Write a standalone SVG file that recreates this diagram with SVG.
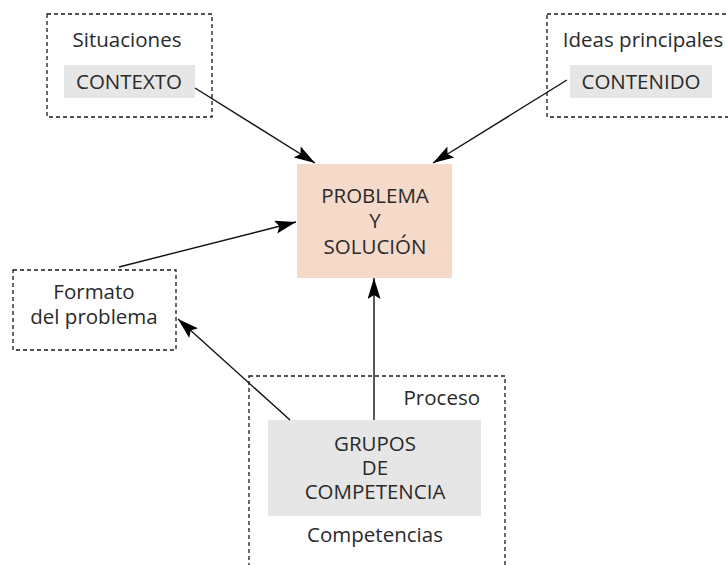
<svg xmlns="http://www.w3.org/2000/svg" width="728" height="565" viewBox="0 0 728 565">
<style>
.dash{fill:none;stroke:#1a1a1a;stroke-width:1.3;stroke-dasharray:4 3}
.gray{fill:#e6e6e6}
.peach{fill:#f5d9c9}
text{font-family:"Open Sans","Noto Sans","DejaVu Sans",sans-serif;font-size:20.5px;fill:#2a2a2a;text-anchor:middle}
.conn{stroke:#111;stroke-width:1.4;fill:none;marker-end:url(#ah)}
</style>
<defs>
<marker id="ah" markerUnits="userSpaceOnUse" markerWidth="24" markerHeight="14" refX="21" refY="6.5" orient="auto">
<path d="M0,0 L21,6.5 L0,13 L4,6.5 z" fill="#000"/>
</marker>
</defs>
<rect width="728" height="565" fill="#fff"/>
<g id="situaciones">
<rect class="dash" x="47" y="14" width="165" height="103"/>
<text x="127" y="47">Situaciones</text>
<rect class="gray" x="64" y="65" width="131" height="33"/>
<text x="129" y="89">CONTEXTO</text>
</g>
<g id="ideas">
<rect class="dash" x="547" y="14" width="190" height="103"/>
<text x="643" y="47">Ideas principales</text>
<rect class="gray" x="570" y="65" width="142" height="33"/>
<text x="641" y="89">CONTENIDO</text>
</g>
<g id="problema">
<rect class="peach" x="297" y="164" width="155" height="114"/>
<text x="375" y="203">PROBLEMA<tspan x="375" dy="25">Y</tspan><tspan x="375" dy="26">SOLUCIÓN</tspan></text>
</g>
<g id="formato">
<rect class="dash" x="13" y="270" width="163" height="80"/>
<text x="94" y="299">Formato<tspan x="94" dy="25">del problema</tspan></text>
</g>
<g id="proceso">
<rect class="dash" x="249" y="376" width="256" height="200"/>
<text x="480" y="405" style="text-anchor:end">Proceso</text>
<rect class="gray" x="268" y="420" width="213" height="96"/>
<text x="375" y="451">GRUPOS<tspan x="375" dy="24">DE</tspan><tspan x="375" dy="24">COMPETENCIA</tspan></text>
<text x="375" y="542">Competencias</text>
</g>
<g id="connectors">
<line class="conn" x1="195" y1="88" x2="315" y2="163"/>
<line class="conn" x1="567" y1="80" x2="433" y2="163"/>
<line class="conn" x1="119" y1="267" x2="296" y2="222"/>
<line class="conn" x1="290" y1="420" x2="178" y2="319"/>
<line class="conn" x1="374" y1="420" x2="374" y2="278"/>
</g>
</svg>
